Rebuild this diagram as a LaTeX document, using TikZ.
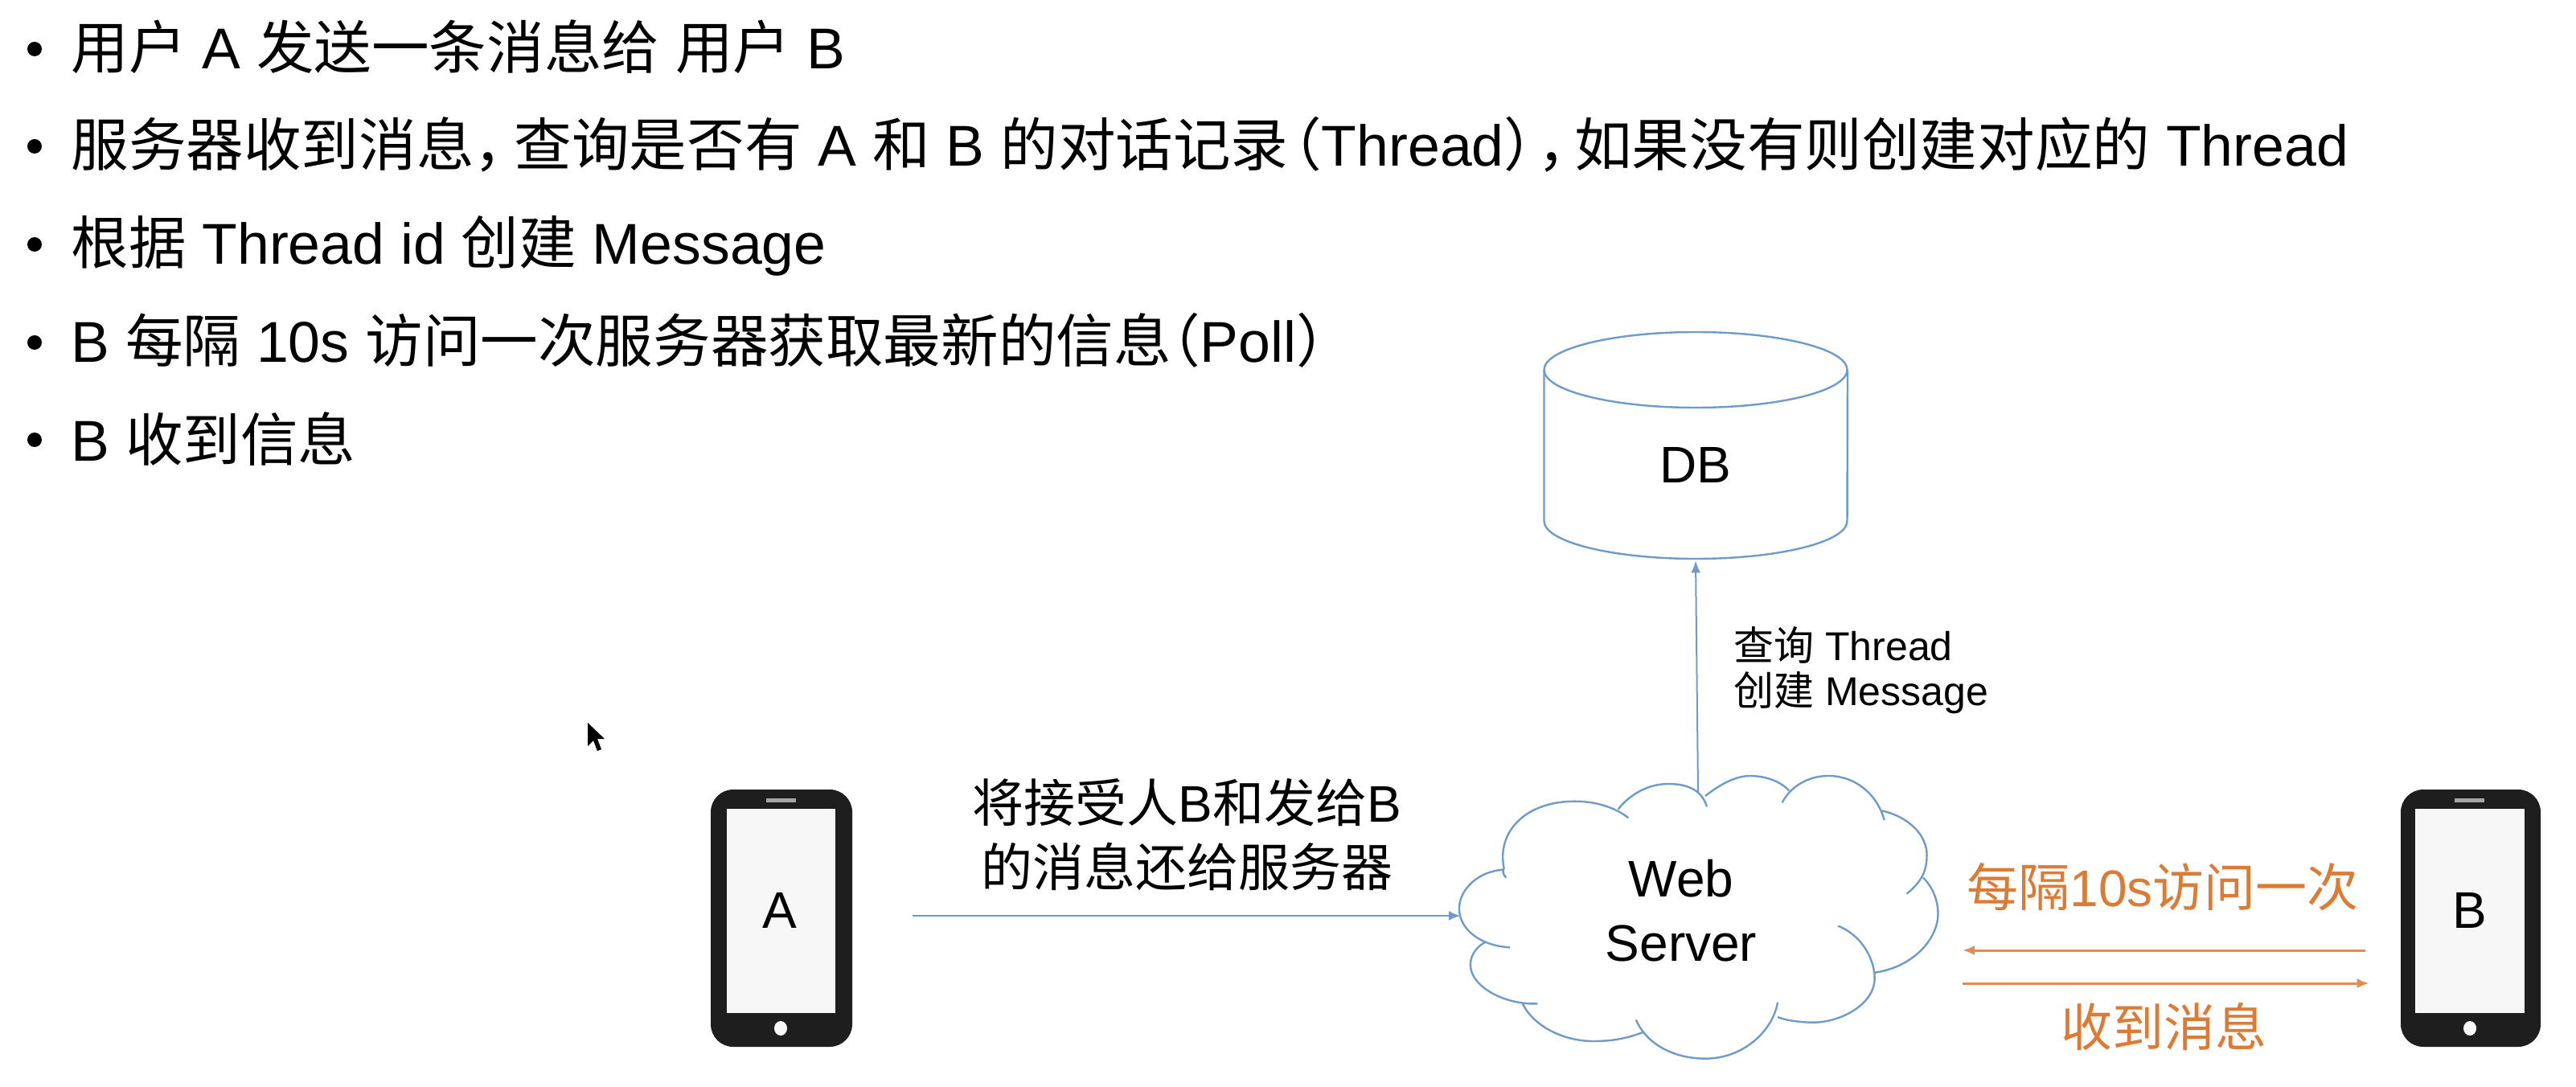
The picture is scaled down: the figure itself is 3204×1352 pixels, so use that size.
\documentclass[tikz,border=0pt]{standalone}
\usepackage{fontspec}
\setmainfont{Liberation Sans}
\newfontfamily\cjk{Noto Sans CJK SC}
\usetikzlibrary{arrows.meta,calc}
\definecolor{lineblue}{HTML}{6F9BCC}
\definecolor{lineorange}{HTML}{E58A4E}
\definecolor{textorange}{HTML}{DD7A33}
\definecolor{phonedark}{HTML}{1E1E1E}
\definecolor{phonescreen}{HTML}{F7F7F7}
\newcommand{\zh}[1]{{\cjk #1}}
\newcommand{\pk}{\kern-.42em}
\tikzset{
  x=0.5pt,y=-0.5pt,
  bigtext/.style={font=\fontsize{32pt}{40pt}\selectfont,inner sep=0pt,text=black,align=center},
  listitem/.style={font=\fontsize{35.8pt}{44pt}\selectfont,inner sep=0pt,anchor=base west,text=black},
  smalltext/.style={font=\fontsize{25pt}{30pt}\selectfont,inner sep=0pt,anchor=west,text=black},
  orangetext/.style={font=\fontsize{32pt}{40pt}\selectfont,inner sep=0pt,text=textorange},
  bulletdot/.style={circle,fill=black,draw=none,inner sep=0pt,minimum size=9pt},
  phonebody/.style={draw=none,fill=phonedark,rounded corners=14pt,inner sep=0pt,minimum height=160pt},
  phonewin/.style={draw=none,fill=phonescreen,inner sep=0pt,minimum height=127pt},
  bluetip/.style={-{Latex[length=7.5pt,width=6pt]}},
  bluelink/.style={bluetip,draw=lineblue,line width=1.4pt},
  thinlink/.style={bluetip,draw=lineblue,line width=1pt},
  orangelink/.style={-{Latex[length=7.5pt,width=6pt]},draw=lineorange,line width=1.5pt},
  outline/.style={draw=lineblue,line width=1.2pt},
}
\begin{document}
\begin{tikzpicture}
\useasboundingbox (0,0) rectangle (3204,1352);
\fill[white] (0,0) rectangle (3204,1352);
% bullets
\node[bulletdot] (b1) at (43,61) {};
\node[bulletdot] (b2) at (43,182) {};
\node[bulletdot] (b3) at (43,304) {};
\node[bulletdot] (b4) at (43,426) {};
\node[bulletdot] (b5) at (43,547) {};
\node[listitem] (l1) at (88,86) {\zh{用户} A \zh{发送一条消息给} \zh{用户} B};
\node[listitem] (l2) at (88,207) {\zh{服务器收到消息，\kern-.3em 查询是否有} A \zh{和} B \zh{的对话记录\pk （}Thread\zh{）\pk ，\kern-.36em 如果没有则创建对应的} Thread};
\node[listitem] (l3) at (88,329) {\zh{根据} Thread id \zh{创建} Message};
\node[listitem] (l4) at (88,451) {B \zh{每隔} 10s \zh{访问一次服务器获取最新的信息\kern-.5em （}Poll\zh{）}};
\node[listitem] (l5) at (88,573) {B \zh{收到信息}};
% DB
\draw[outline] (1920.5,460) -- (1920.5,648) arc[start angle=180,end angle=360,x radius=94.25pt,y radius=23.5pt] -- (2298,460);
\draw[outline] (2109,460) ellipse[x radius=94.25pt,y radius=23.5pt];
\node[bigtext,minimum width=189pt,minimum height=119pt] (db) at (2109,578) {DB};
% cursor
\fill[black] (731,899) -- (731,928) -- (738,921) -- (743,934) -- (748,932) -- (743,919) -- (752,919) -- cycle;
% phones
\node[phonebody,minimum width=88pt] (phoneA) at (972,1142) {};
\node[phonewin,minimum width=67.5pt] (screenA) at (971.5,1133) {};
\fill[gray!70] (953,992.5) rectangle (990,997.5);
\fill[phonescreen] (971,1279) ellipse[x radius=4pt,y radius=4.5pt];
\node[bigtext] (labelA) at (970,1132) {A};
\node[phonebody,minimum width=87pt] (phoneB) at (3073,1142) {};
\node[phonewin,minimum width=68pt] (screenB) at (3072,1133) {};
\fill[gray!70] (3053,992.5) rectangle (3090,997.5);
\fill[phonescreen] (3072,1279) ellipse[x radius=4pt,y radius=4.5pt];
\node[bigtext] (labelB) at (3072,1132) {B};
% cloud
\begin{scope}[shift={(1750,900)},x=0.4638pt,y=-0.16667pt]
\draw[outline]
 (133,575) .. controls (128,560) and (128,550) .. (130,540) .. controls (120,400) and (160,290) .. (225,290) .. controls (255,290) and (280,315) .. (297,352)
 (283,320) .. controls (300,260) and (325,225) .. (350,225) .. controls (375,225) and (395,245) .. (402,310)
 (400,270) .. controls (425,215) and (445,195) .. (460,195) .. controls (485,195) and (505,225) .. (512,250)
 (503,295) .. controls (515,230) and (540,195) .. (565,195) .. controls (600,195) and (630,260) .. (640,360)
 (637,325) .. controls (675,350) and (697,420) .. (697,490) .. controls (697,550) and (690,590) .. (670,635)
 (692,575) .. controls (705,610) and (712,660) .. (712,710) .. controls (712,800) and (680,910) .. (625,930)
 (578,755) .. controls (610,790) and (627,880) .. (627,950) .. controls (627,1050) and (580,1115) .. (545,1115) .. controls (525,1115) and (505,1105) .. (497,1095)
 (497,1040) .. controls (490,1150) and (450,1250) .. (400,1250) .. controls (355,1250) and (320,1190) .. (307,1105)
 (318,1150) .. controls (295,1175) and (275,1185) .. (250,1185) .. controls (210,1185) and (170,1130) .. (155,1045)
 (175,1045) .. controls (130,1050) and (85,980) .. (85,900) .. controls (85,860) and (95,830) .. (105,815)
 (138,835) .. controls (100,830) and (70,770) .. (70,690) .. controls (70,620) and (95,550) .. (130,545);
\end{scope}
\coordinate (srvW) at (1817,1139);
\coordinate (srvN) at (2112,985);
\coordinate (srvOutT) at (2441,1182);
\coordinate (srvOutB) at (2441,1223);
\node[bigtext] (server) at (2091,1132.5) {Web\\Server};
% connectors
\draw[bluelink,shorten <=37.5pt] (phoneA.east |- srvW) -- (srvW);
\draw[thinlink] (srvN) -- (db.south);
\draw[orangelink,shorten <=22pt] (phoneB.west |- srvOutT) -- (srvOutT);
\draw[orangelink,shorten >=19.5pt] (srvOutB) -- (phoneB.west |- srvOutB);
% labels
\node[bigtext] (lblAS) at (1476,1038) {\zh{将接受人}B\zh{和发给}B\\\zh{的消息还给服务器}};
\node[smalltext] (lblDB1) at (2156,802) {\zh{查询} Thread};
\node[smalltext] (lblDB2) at (2156,862) {\zh{创建} Message};
\node[orangetext] (lblPoll) at (2690,1103) {\zh{每隔}10s\zh{访问一次}};
\node[orangetext] (lblRecv) at (2691,1277) {\zh{收到消息}};
\end{tikzpicture}
\end{document}
